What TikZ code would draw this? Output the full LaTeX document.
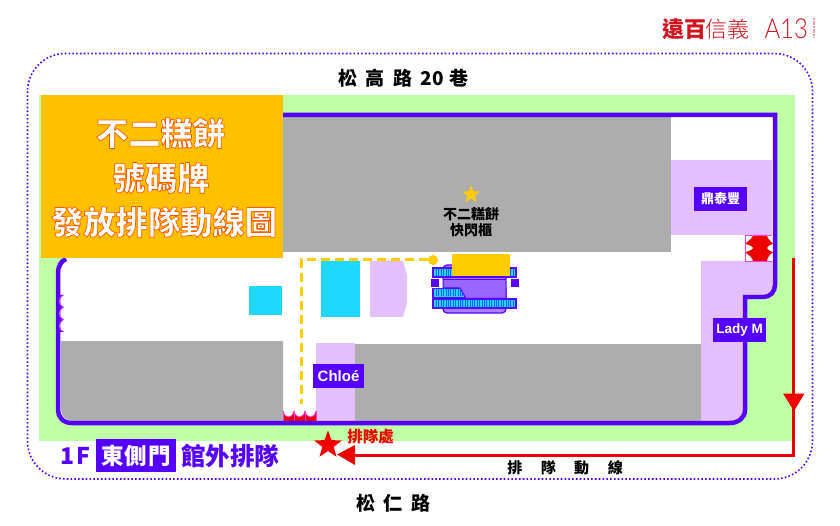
\documentclass[tikz,border=0pt]{standalone}
\usepackage{fontspec}
\usetikzlibrary{shapes.geometric}
\setmainfont{Liberation Sans}
\newfontfamily\cjk{Noto Sans CJK TC}
\newfontfamily\cjklight{Noto Sans CJK TC Light}
\newfontfamily\lightlatin{Lato Light}
\definecolor{wallc}{HTML}{5500FF}
\definecolor{lilac}{HTML}{E3BFFF}
\definecolor{cyanc}{HTML}{1FD7FF}
\definecolor{greenc}{HTML}{BFFFA6}
\definecolor{grayc}{HTML}{ADADAD}
\definecolor{redc}{HTML}{EE0000}
\definecolor{yel}{HTML}{FFCC00}
\definecolor{orangec}{HTML}{FFC000}
\definecolor{logored}{HTML}{D2121E}
\definecolor{mag}{HTML}{F040E0}
\newcommand{\outl}[1]{\special{pdf:code 2 Tr 0.7 w 1 0.35 0 RG}#1\special{pdf:code 0 Tr 0 w}}
\tikzset{
 px/.style={inner sep=0pt,outer sep=0pt},
 label box/.style={px,fill=wallc,text=white,font=\bfseries\fontsize{13.5}{13.5}\selectfont,minimum height=24pt},
 road/.style={px,font=\cjk\bfseries\fontsize{19}{19}\selectfont,text=black},
 titletxt/.style={px,font=\cjk\bfseries\fontsize{32.3}{32.3}\selectfont,text=white},
 hatch/.style={line width=7pt,blue!55!cyanc,dash pattern=on .8pt off 1.6pt},
 redline/.style={draw=redc,line width=3pt},
 door/.style={draw=mag,line width=.8pt},
}
\begin{document}
\begin{tikzpicture}[x=1pt,y=-1pt]
\useasboundingbox (0,0) rectangle (840,526);
\fill[white] (0,0) rectangle (840,526);
% logo
\node[px,anchor=west,text=logored] (logoa) at (662,29) {\cjk\bfseries\fontsize{22}{22}\selectfont 遠百};
\node[px,anchor=west,text=logored] (logob) at (705.5,29) {\cjklight\fontsize{22}{22}\selectfont 信義};
\node[px,anchor=west,text=logored,xscale=.87,transform shape] (logoc) at (764.5,29) {\lightlatin\fontsize{27.5}{27.5}\selectfont A13};
\draw[logored!40,line width=2pt,dash pattern=on 2pt off .7pt] (814,18) -- (814,38);
% outline
\draw[wallc,line width=1.6pt,dash pattern=on 1.6pt off 2.2pt,rounded corners=38pt] (27.5,53.5) rectangle (812.5,479);
% site
\fill[greenc] (39,95) rectangle (795,441);
% interior
\fill[white] (283,115) -- (775,115) -- (775,285) .. controls (775,292) and (770,297) .. (763,297) -- (745,297) -- (745,410) .. controls (745,418) and (738,423) .. (730,423) -- (72,423) .. controls (63,423) and (58,417) .. (58,410) -- (58,274) .. controls (58,266) and (61,261) .. (66,259) -- cycle;
\fill[grayc] (283,117) rectangle (671,252);
\fill[grayc] (61,341) -- (283,341) -- (283,421) -- (74,421) .. controls (67,421) and (61,417) .. (61,410) -- cycle;
\fill[grayc] (355,344) rectangle (701,421);
% shops
\fill[lilac] (671,160) rectangle (772,235);
\fill[lilac] (701,261) -- (772.5,261) -- (772.5,285) .. controls (772.5,290) and (769,294) .. (763,294) -- (743,294) -- (743,410) .. controls (743,416) and (737,421) .. (730,421) -- (701,421) -- cycle;
\fill[lilac] (316,343) rectangle (355,421);
\fill[lilac] (370,261) -- (403,261) -- (407,275) -- (407,303) -- (403,317) -- (370,317) -- cycle;
\fill[cyanc] (249,286) rectangle (282,315);
\fill[cyanc] (321,261) rectangle (360,317);
% right door
\fill[white] (745,235) rectangle (772,261);
\path[fill=redc] (753,235) -- (767,235)
  .. controls (767,238) and (770,241) .. (773,243.7) .. controls (770,245) and (767,246) .. (767,248)
  .. controls (767,250) and (770,251) .. (773,252.4) .. controls (770,254) and (767,258) .. (767,261)
  -- (753,261) .. controls (753,258) and (748,254) .. (745,252.4) .. controls (748,251) and (753,250) .. (753,248)
  .. controls (753,246) and (748,245) .. (745,243.7) .. controls (748,241) and (753,238) .. (753,235) -- cycle;
\draw[door] (745,235) -- (772,235) (745,261) -- (772,261) (745,235) -- (745,261);
% bottom door
\foreach \xa/\xb in {283/294,294/305,305/316}{
  \fill[redc] (\xa,421) -- (\xa,411) .. controls (\xa+2,419) and (\xb-2,419) .. (\xb,411) -- (\xb,421) -- cycle;
  \draw[door] (\xa,411) .. controls (\xa+2,419) and (\xb-2,419) .. (\xb,411);
  \draw[door] (\xa,411) -- (\xa,421) (\xb,411) -- (\xb,421);
}
% wall
\draw[wallc,line width=4.5pt,line join=miter] (283,115) -- (775,115) -- (775,285) .. controls (775,292) and (770,297) .. (763,297) -- (745,297) -- (745,410) .. controls (745,418) and (738,423) .. (730,423) -- (72,423) .. controls (63,423) and (58,417) .. (58,410) -- (58,274) .. controls (58,266) and (61,261) .. (66,259);
% left door
\foreach \ya/\yb in {295/307.3,307.3/319.6,319.6/332}{
  \fill[wallc] (57,\ya) -- (63.5,\ya) .. controls (58,\ya+2) and (58,\yb-2) .. (63.5,\yb) -- (57,\yb) -- cycle;
  \draw[door] (63.5,\ya) .. controls (58,\ya+2) and (58,\yb-2) .. (63.5,\yb);
}
% title block
\fill[orangec] (41,95) rectangle (283,258);
\node[titletxt] (t1) at (160.5,133) {\outl{不二糕餅}};
\node[titletxt] (t2) at (161,178) {\outl{號碼牌}};
\node[titletxt] (t3) at (164,222) {\outl{發放排隊動線圖}};
% road names
\node[road] (r1) at (403.5,78) {松\hspace{8.5pt}高\hspace{8.5pt}路\hspace{8.5pt}20\hspace{6pt}巷};
\node[road] (r2) at (393.5,503) {松\hspace{9pt}仁\hspace{9pt}路};
% pop up
\node[star,star points=5,star point ratio=2.4,fill=yel,px,minimum size=19pt] (st) at (471,194.5) {};
\node[px,align=center,font=\cjk\bfseries\fontsize{14}{16}\selectfont,text=black] (popup) at (471,222) {不二糕餅\\快閃櫃};
% dashed route
\node[circle,fill=yel,px,minimum size=10pt] (dot) at (433,260) {};
\coordinate (dc) at (301,260);
\coordinate (de) at (301,404);
\draw[yel,line width=3pt,dash pattern=on 9pt off 5pt] (dot) -- (dc) -- (de);
% escalator
\draw[wallc,fill=wallc!50!white,line width=1.2pt,rounded corners=4pt] (443,265) rectangle (506,313);
\fill[wallc] (431,279.5) rectangle (438.5,287.5);
\fill[wallc] (511,279.5) rectangle (518.5,287.5);
\fill[white] (438.5,279) rectangle (443,288);
\fill[white] (506,279) rectangle (511,288);
\foreach \ya/\xb in {268/516,288.5/466,299/516}{
  \draw[wallc,fill=cyanc,line width=1.2pt] (433,\ya) rectangle (\xb,\ya+9);
  \draw[hatch] (436,\ya+4.5) -- (\xb-3,\ya+4.5);
}
\draw[wallc,fill=wallc!60!white,line width=1pt] (443,279.5) -- (506,279.5) -- (506,298.5) -- (466,298.5) -- (460,288) -- (443,288) -- cycle;
\fill[yel] (452,254) rectangle (510,276);
% shop labels
\node[label box,minimum width=53pt] (s1) at (720.5,199) {\cjk\fontsize{13}{13}\selectfont 鼎泰豐};
\node[label box,minimum width=53pt] (s2) at (739.5,330) {Lady M};
\node[label box,minimum width=51pt,font=\bfseries\fontsize{15}{15}\selectfont] (s3) at (338.5,376) {Chloé};
% bottom legend
\node[px,text=wallc,font=\cjk\bfseries\fontsize{23}{23}\selectfont] (f) at (75.5,456) {1\hspace{2.5pt}F};
\node[px,fill=wallc,text=white,font=\cjk\bfseries\fontsize{22.5}{22.5}\selectfont,minimum width=80pt,minimum height=33pt] (east) at (136,455.5) {東\hspace{1pt}側\hspace{1pt}門};
\node[px,anchor=west,text=wallc,font=\cjk\bfseries\fontsize{24.5}{24.5}\selectfont] (queue) at (181,456) {館外排隊};
% queue route
\coordinate (qa) at (793.5,258);
\coordinate (qb) at (793.5,455);
\coordinate (qc) at (350,455);
\draw[redline] (qa) -- (qb) -- (qc);
\fill[redc] (783,393.5) -- (804.5,393.5) -- (794,411) -- cycle;
\fill[redc] (337,454.5) -- (355,445) -- (355,465) -- cycle;
\node[star,star points=5,star point ratio=2.4,fill=redc,px,minimum size=29pt] (qs) at (328,445) {};
\node[px,text=redc,font=\cjk\bfseries\fontsize{15.5}{15.5}\selectfont] (qt) at (370.5,436.5) {排隊處};
\node[px,text=black,font=\cjk\bfseries\fontsize{15}{15}\selectfont] (qr) at (565,468) {排\hspace{18.5pt}隊\hspace{18.5pt}動\hspace{18.5pt}線};
\end{tikzpicture}
\end{document}
